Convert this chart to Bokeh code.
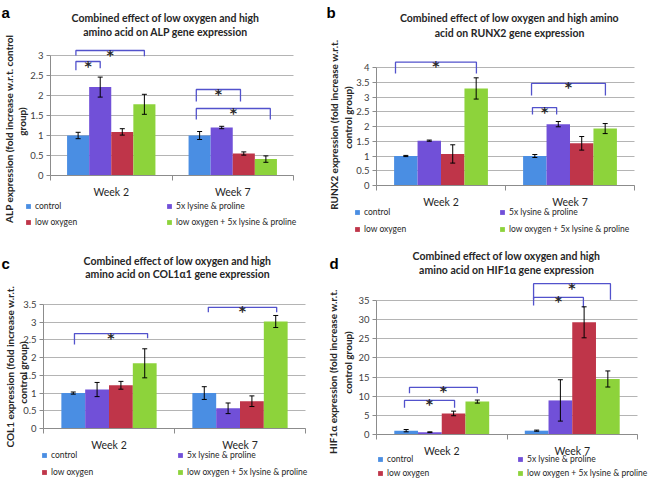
import math
from bokeh.plotting import figure
from bokeh.layouts import gridplot
from bokeh.models import (Range1d, FixedTicker, NumeralTickFormatter, Legend, LegendItem,
                          Label, Whisker, TeeHead, ColumnDataSource, Grid)
from bokeh.core.properties import value
from bokeh.embed import file_html
from bokeh.resources import INLINE

# ---------------- data ----------------
weeks = ["Week 2", "Week 7"]
series = ["control", "5x lysine & proline", "low oxygen", "low oxygen + 5x lysine & proline"]
colors = ["#4A8EE3", "#7150D8", "#BF3549", "#8DD33B"]

# Panel a: ALP (values per series: control, 5x, low O2, low O2 + 5x)
alp_w2 = [1.00, 2.21, 1.09, 1.78]
alp_w2_err = [0.08, 0.25, 0.08, 0.25]
alp_w7 = [1.00, 1.20, 0.55, 0.41]
alp_w7_err = [0.10, 0.03, 0.04, 0.08]
alp_ticks = [0, 0.5, 1, 1.5, 2, 2.5, 3]
# significance brackets: week index, from/to bar position, top, left/right leg ends
alp_br_week = [0, 0, 1, 1]
alp_br_from = [-0.1, -0.1, -0.15, -0.15]
alp_br_to = [1.0, 3.0, 1.85, 3.2]
alp_br_top = [2.85, 3.125, 2.15, 1.675]
alp_br_left = [2.63, 3.0, 1.85, 1.4]
alp_br_right = [2.68, 2.98, 1.85, 1.4]

# Panel b: RUNX2
runx_w2 = [1.00, 1.52, 1.07, 3.29]
runx_w2_err = [0.02, 0.02, 0.31, 0.36]
runx_w7 = [1.00, 2.08, 1.43, 1.93]
runx_w7_err = [0.05, 0.09, 0.23, 0.17]
runx_ticks = [0, 0.5, 1, 1.5, 2, 2.5, 3, 3.5, 4]
runx_br_week = [0, 1, 1]
runx_br_from = [-0.44, -0.14, -0.1]
runx_br_to = [3.01, 3.01, 0.93]
runx_br_top = [4.18, 3.46, 2.64]
runx_br_left = [3.8, 3.05, 2.41]
runx_br_right = [3.8, 3.05, 2.41]

# Panel c: COL1a1
col_w2 = [1.00, 1.10, 1.22, 1.84]
col_w2_err = [0.03, 0.20, 0.11, 0.41]
col_w7 = [1.00, 0.57, 0.77, 3.02]
col_w7_err = [0.18, 0.15, 0.15, 0.17]
col_ticks = [0, 0.5, 1, 1.5, 2, 2.5, 3, 3.5]
col_br_week = [0, 1]
col_br_from = [0.05, 0.17]
col_br_to = [3.12, 3.04]
col_br_top = [2.68, 3.42]
col_br_left = [2.37, 3.28]
col_br_right = [2.55, 3.28]

# Panel d: HIF1a
hif_w2 = [1.0, 0.6, 5.5, 8.6]
hif_w2_err = [0.3, 0.1, 0.6, 0.4]
hif_w7 = [1.0, 8.9, 29.3, 14.5]
hif_w7_err = [0.15, 5.4, 4.05, 2.1]
hif_ticks = [0, 5, 10, 15, 20, 25, 30, 35]
hif_br_week = [0, 0, 1, 1]
hif_br_from = [-0.07, 0.14, -0.13, -0.13]
hif_br_to = [2.04, 3.0, 1.97, 3.11]
hif_br_top = [8.9, 12.3, 35.8, 39.4]
hif_br_left = [7.0, 10.8, 33.7, 35.3]
hif_br_right = [7.0, 10.8, 33.2, 35.2]

BW = 1 / 5.5  # bar width (Excel gap width 150%)

# ---------------- styling ----------------
FONT = "Lato"
AXIS_GRAY = "#8C8C8C"
GRID_GRAY = "#B4B4B4"
TXT = "#262626"
BRACKET = "#5252CC"
HAS_CROSS = "cross_bounds" in Grid.properties()


def bar_x(week, pos):
    return week + 0.5 + (pos - 1.5) * BW


def make_panel(cfg):
    ox, oy, W, H = cfg["box"]
    fl, fr, y0, ppu = cfg["frame"]

    def dx(rx):
        return (rx - fl) / (fr - fl) * 2

    def dy(ry):
        return (y0 - ry) / ppu

    p = figure(width=W, height=H,
               x_range=Range1d(dx(ox), dx(ox + W)), y_range=Range1d(dy(oy + H), dy(oy)),
               output_backend="svg", toolbar_location=None, title=None,
               min_border=0)
    p.outline_line_color = None
    p.background_fill_color = "white"
    p.border_fill_color = "white"

    ticks = cfg["ticks"]
    # grid lines
    if HAS_CROSS:
        p.ygrid.ticker = FixedTicker(ticks=ticks)
        p.ygrid.bounds = (ticks[0], ticks[-1])
        p.ygrid.cross_bounds = (0, 2)
        p.ygrid.grid_line_color = GRID_GRAY
    else:
        p.ygrid.visible = False
        p.segment(x0=0, x1=2, y0=ticks, y1=ticks, line_color=GRID_GRAY, line_width=1)
    p.xgrid.visible = False

    renderers = []
    for j in range(4):
        src = ColumnDataSource(dict(
            x=[bar_x(0, j), bar_x(1, j)],
            top=[cfg["w2"][j], cfg["w7"][j]],
            upper=[cfg["w2"][j] + cfg["w2e"][j], cfg["w7"][j] + cfg["w7e"][j]],
            lower=[cfg["w2"][j] - cfg["w2e"][j], cfg["w7"][j] - cfg["w7e"][j]],
        ))
        r = p.vbar(x="x", top="top", bottom=0, width=BW, source=src,
                   fill_color=colors[j], line_color=None)
        renderers.append(r)
        wh = Whisker(source=src, base="x", upper="upper", lower="lower",
                     dimension="height", line_color="black", line_width=1,
                     upper_head=TeeHead(size=5, line_color="black", line_width=1),
                     lower_head=TeeHead(size=5, line_color="black", line_width=1),
                     level="overlay")
        p.add_layout(wh)

    # significance brackets
    br = cfg["br"]
    xs, ys, sx, sy = [], [], [], []
    for wk, a, b, top, lft, rgt in zip(*br):
        x1, x2 = bar_x(wk, a), bar_x(wk, b)
        xs.append([x1, x1, x2, x2])
        ys.append([lft, top, top, rgt])
        sx.append((x1 + x2) / 2)
        sy.append(top)
    p.multi_line(xs=xs, ys=ys, line_color=BRACKET, line_width=1.3)
    p.text(x=sx, y=sy, text=["*"] * len(sx), text_font=value("DejaVu Sans"),
           text_font_style="bold", text_font_size="14px", text_align="center",
           text_baseline="alphabetic", y_offset=4, text_color=TXT)

    # axes drawn at data positions inside the frame
    p.xaxis.fixed_location = 0
    p.xaxis.bounds = (0, 2)
    p.xaxis.ticker = FixedTicker(ticks=[0.5, 1.5], minor_ticks=[0, 1, 2])
    p.xaxis.major_label_overrides = {0.5: weeks[0], 1.5: weeks[1]}
    p.xaxis.major_tick_line_color = None
    p.xaxis.major_tick_out = 5
    p.xaxis.major_tick_in = 0
    p.xaxis.minor_tick_out = 5
    p.xaxis.minor_tick_in = 0
    p.xaxis.minor_tick_line_color = AXIS_GRAY
    p.xaxis.axis_line_color = AXIS_GRAY
    p.xaxis.major_label_standoff = 5
    p.xaxis.major_label_text_font = FONT
    p.xaxis.major_label_text_font_size = "10.5px"
    p.xaxis.major_label_text_color = TXT

    p.yaxis.fixed_location = 0
    p.yaxis.ticker = FixedTicker(ticks=ticks)
    p.yaxis.bounds = (ticks[0], ticks[-1])
    p.yaxis.formatter = NumeralTickFormatter(format="0.[0]")
    p.yaxis.major_tick_out = 4
    p.yaxis.major_tick_in = 0
    p.yaxis.minor_tick_line_color = None
    p.yaxis.axis_line_color = AXIS_GRAY
    p.yaxis.major_tick_line_color = AXIS_GRAY
    p.yaxis.major_label_standoff = 3
    p.yaxis.major_label_text_font = FONT
    p.yaxis.major_label_text_font_size = "9.5px"
    p.yaxis.major_label_text_color = "#404040"

    # panel letter
    lx, ly = cfg["letter_pos"]
    p.add_layout(Label(x=dx(lx), y=dy(ly), text=cfg["letter"], text_font="Liberation Sans",
                       text_font_style="bold", text_font_size="15px", text_color="black",
                       text_align="left", text_baseline="alphabetic"))
    # title
    tx = cfg["title_x"]
    for line, ty in zip(cfg["title"], cfg["title_y"]):
        p.add_layout(Label(x=dx(tx), y=dy(ty), text=line, text_font=FONT,
                           text_font_style="bold", text_font_size="10.5px", text_color=TXT,
                           text_align="center", text_baseline="middle"))
    # y axis label (two lines)
    for line, (yx, yy) in zip(cfg["ylabel"], cfg["ylabel_pos"]):
        p.add_layout(Label(x=dx(yx), y=dy(yy), text=line, text_font=FONT,
                           text_font_style="bold", text_font_size="10px", text_color=TXT,
                           angle=math.pi / 2, text_align="center", text_baseline="middle"))

    # legend (location measured from frame bottom-left = panel bottom-left)
    sq_left, row1, pitch, colpitch = cfg["legend"]
    gl = 6
    lab_h = 9
    spacing = max(pitch - lab_h, 0)
    leg_bottom = row1 + pitch + lab_h / 2
    vx = sq_left - ox
    vy = (oy + H) - leg_bottom
    items = [LegendItem(label=s, renderers=[r]) for s, r in zip(series, renderers)]
    leg = Legend(items=items, location=(vx, vy), orientation="horizontal", ncols=2,
                 glyph_width=gl, glyph_height=gl, label_height=lab_h, label_standoff=4,
                 spacing=spacing, padding=0, margin=0, border_line_color=None,
                 background_fill_alpha=0, label_text_font=FONT, label_text_font_size="8.5px",
                 label_text_color=TXT,
                 label_width=max(colpitch - gl - 4 - spacing, 0))
    p.add_layout(leg, "center")
    return p


pa = make_panel(dict(
    box=(0, 0, 324, 240), frame=(50, 293, 175, 40.0),
    w2=alp_w2, w2e=alp_w2_err, w7=alp_w7, w7e=alp_w7_err, ticks=alp_ticks,
    br=(alp_br_week, alp_br_from, alp_br_to, alp_br_top, alp_br_left, alp_br_right),
    letter="a", letter_pos=(1, 12),
    title=["Combined effect of low oxygen and high", "amino acid on ALP gene expression"],
    title_x=165, title_y=[17, 31.5],
    ylabel=["ALP  expression (fold increase w.r.t. control", "group)"],
    ylabel_pos=[(8, 127), (21, 121)],
    legend=(25, 207, 15, 141)))

pb = make_panel(dict(
    box=(324, 0, 324, 240), frame=(376, 634, 185, 29.5),
    w2=runx_w2, w2e=runx_w2_err, w7=runx_w7, w7e=runx_w7_err, ticks=runx_ticks,
    br=(runx_br_week, runx_br_from, runx_br_to, runx_br_top, runx_br_left, runx_br_right),
    letter="b", letter_pos=(326, 12),
    title=["Combined effect of low oxygen and high amino", "acid on RUNX2 gene expression"],
    title_x=509, title_y=[17.3, 32],
    ylabel=["RUNX2  expression (fold increase w.r.t.", "control group)"],
    ylabel_pos=[(333, 123), (347, 117)],
    legend=(354, 213, 16, 145)))

pc = make_panel(dict(
    box=(0, 240, 324, 238), frame=(43, 305, 428, 35.43),
    w2=col_w2, w2e=col_w2_err, w7=col_w7, w7e=col_w7_err, ticks=col_ticks,
    br=(col_br_week, col_br_from, col_br_to, col_br_top, col_br_left, col_br_right),
    letter="c", letter_pos=(1, 263),
    title=["Combined effect of low oxygen and high", "amino acid on COL1\u03b11 gene expression"],
    title_x=177, title_y=[260.7, 273.5],
    ylabel=["COL1  expression (fold increase w.r.t.", "control group)"],
    ylabel_pos=[(9, 365), (22, 372)],
    legend=(41, 456, 16, 136)))

pd_ = make_panel(dict(
    box=(324, 240, 324, 238), frame=(376, 637, 434, 3.829),
    w2=hif_w2, w2e=hif_w2_err, w7=hif_w7, w7e=hif_w7_err, ticks=hif_ticks,
    br=(hif_br_week, hif_br_from, hif_br_to, hif_br_top, hif_br_left, hif_br_right),
    letter="d", letter_pos=(329, 263),
    title=["Combined effect of low oxygen and high", "amino acid on HIF1\u03b1 gene expression"],
    title_x=506, title_y=[255, 269.3],
    ylabel=["HIF1\u03b1  expression (fold increase w.r.t.", "control group)"],
    ylabel_pos=[(332, 370), (347, 362)],
    legend=(377, 460, 13, 140)))

grid = gridplot([[pa, pb], [pc, pd_]], toolbar_location=None)
open("out.html", "w").write(file_html(grid, INLINE))
